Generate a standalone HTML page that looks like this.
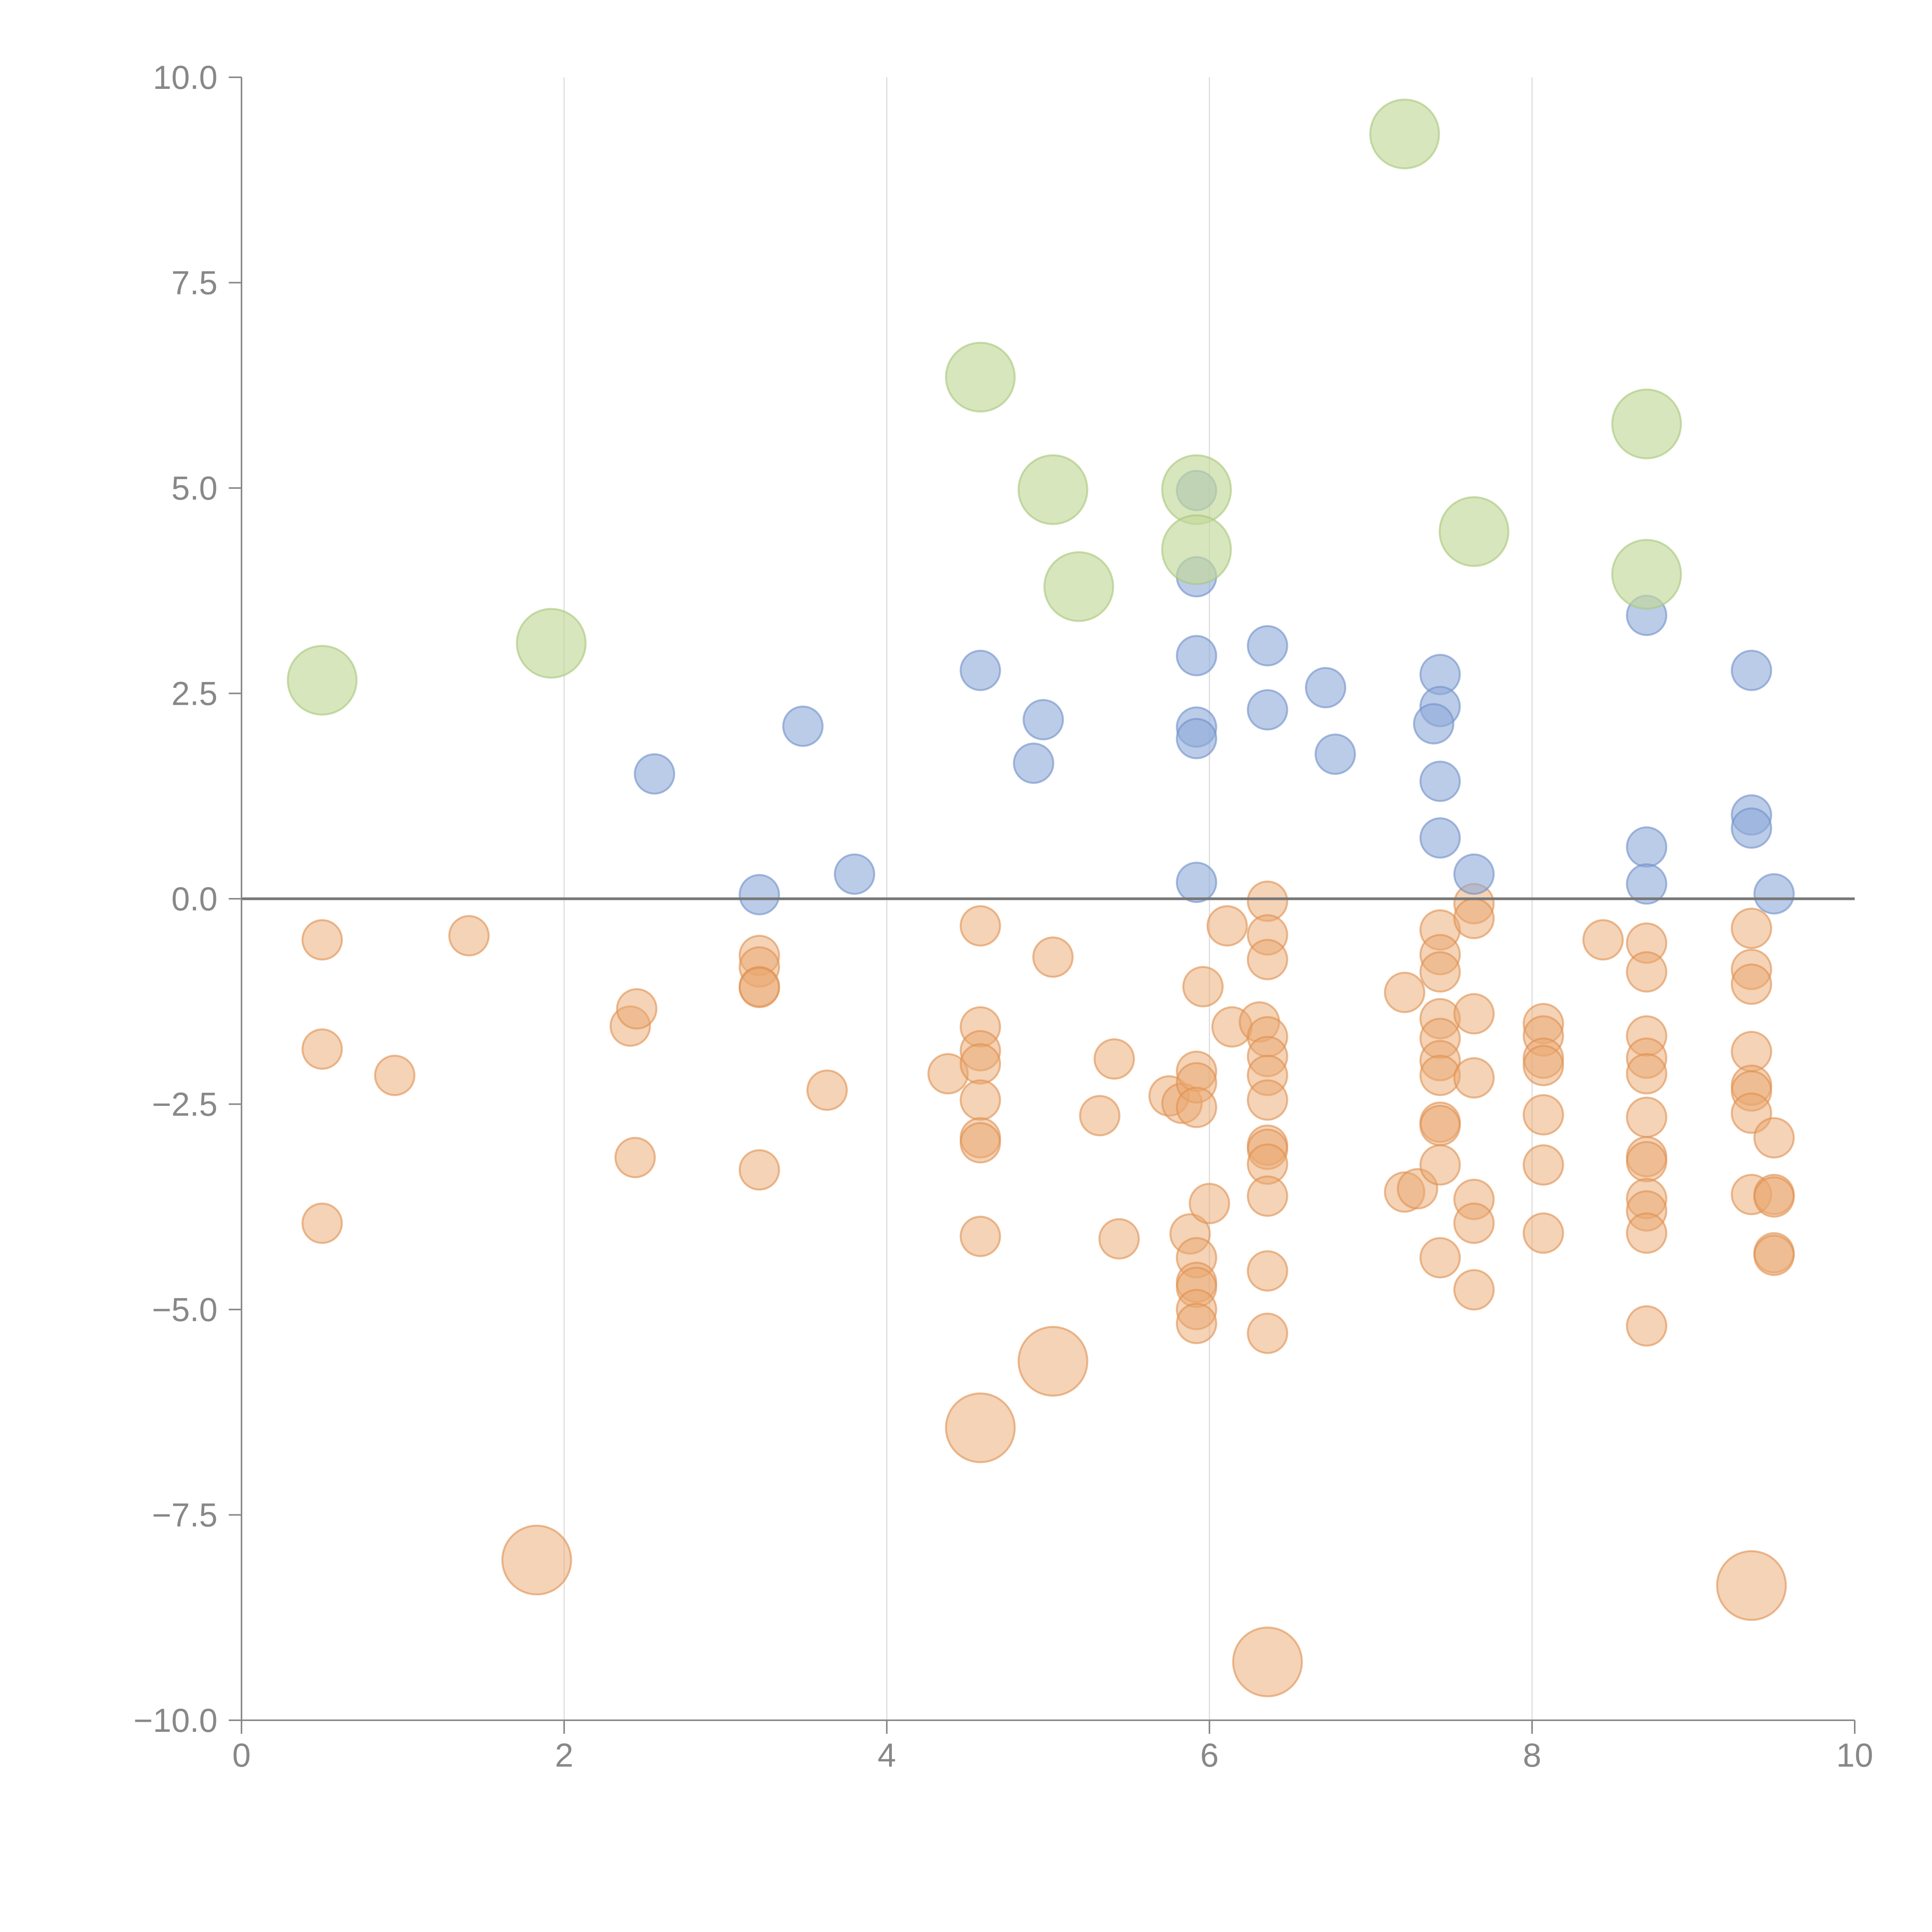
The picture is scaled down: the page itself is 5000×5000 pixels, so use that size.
<!DOCTYPE html>
<html><head><meta charset="utf-8">
<style>
html,body{margin:0;padding:0;background:#fff;}
svg{display:block;}
text{font-family:"Liberation Sans",Arial,sans-serif;fill:#888;font-size:86px;}
</style></head>
<body>
<svg id="chart" width="5000" height="5000" viewBox="0 0 5000 5000" xmlns="http://www.w3.org/2000/svg">
<g id="grid"></g>
<g id="marks"></g>
<g id="axes"></g>
</svg>
<script>
const xTicks=[0,2,4,6,8,10];
const yTicks=[-10,-7.5,-5,-2.5,0,2.5,5,7.5,10];
const yTickLabels=["\u221210.0","\u22127.5","\u22125.0","\u22122.5","0.0","2.5","5.0","7.5","10.0"];
const greenX=[0.50,1.92,4.58,5.03,5.19,5.92,5.92,7.21,7.64,8.71,8.71];
const greenY=[2.66,3.11,6.35,4.98,3.80,4.98,4.25,9.31,4.47,5.78,3.95];
const blueX=[2.56,3.48,3.21,3.80,4.58,4.97,4.91,5.92,5.92,5.92,5.92,5.92,5.92,6.36,6.36,6.72,6.78,7.43,7.43,7.39,7.43,7.43,7.64,8.71,8.71,8.71,9.36,9.36,9.36,9.50];
const blueY=[1.52,2.10,0.05,0.30,2.78,2.18,1.65,4.97,3.92,2.96,2.09,1.95,0.20,3.08,2.30,2.57,1.76,2.73,2.34,2.13,1.43,0.74,0.30,3.45,0.63,0.18,2.78,1.02,0.86,0.06];
const orangeX=[0.50,0.50,0.50,1.41,0.95,2.41,2.45,2.44,3.21,3.21,3.21,3.21,3.21,3.63,4.38,4.58,4.58,4.58,4.58,4.58,4.58,4.58,4.58,5.03,5.32,5.41,5.44,5.75,5.83,5.88,5.92,5.92,5.92,5.96,6.00,5.92,5.92,5.92,5.92,5.92,6.11,6.14,6.31,6.36,6.36,6.36,6.36,6.36,6.36,6.36,6.36,6.36,6.36,6.36,6.36,6.36,7.21,7.21,7.29,7.43,7.43,7.43,7.43,7.43,7.43,7.43,7.43,7.43,7.43,7.43,7.64,7.64,7.64,7.64,7.64,7.64,7.64,8.07,8.07,8.07,8.07,8.07,8.07,8.07,8.44,8.71,8.71,8.71,8.71,8.71,8.71,8.71,8.71,8.71,8.71,8.71,8.71,9.36,9.36,9.36,9.36,9.36,9.36,9.36,9.36,9.50,9.50,9.50,9.50,9.50];
const orangeY=[-0.50,-1.83,-3.95,-0.45,-2.15,-1.55,-1.34,-3.15,-0.69,-0.83,-1.07,-1.08,-3.30,-2.33,-2.13,-0.33,-1.56,-1.85,-2.01,-2.45,-2.91,-2.97,-4.11,-0.71,-2.64,-1.95,-4.14,-2.40,-2.49,-4.08,-2.10,-2.24,-2.54,-1.07,-3.71,-4.37,-4.67,-4.73,-5.00,-5.17,-0.33,-1.56,-1.50,-0.03,-0.44,-0.74,-1.68,-1.92,-2.15,-2.45,-3.00,-3.05,-3.23,-3.62,-4.53,-5.29,-1.14,-3.57,-3.53,-0.38,-0.68,-0.89,-1.46,-1.70,-1.97,-2.15,-2.72,-2.76,-3.24,-4.37,-0.06,-0.24,-1.40,-2.18,-3.66,-3.95,-4.76,-1.52,-1.67,-1.94,-2.03,-2.63,-3.24,-4.07,-0.50,-0.54,-0.89,-1.67,-1.94,-2.13,-2.66,-3.14,-3.20,-3.65,-3.80,-4.07,-5.20,-0.36,-0.86,-1.04,-1.86,-2.27,-2.34,-2.61,-3.60,-2.91,-3.60,-3.63,-4.31,-4.34];
const bigOrangeX=[5.03,4.58,1.83,9.36,6.36];
const bigOrangeY=[-5.63,-6.44,-8.05,-8.36,-9.29];

const NS="http://www.w3.org/2000/svg";
const X0=625,X1=4800,Y0=4452,Y1=200;
function sx(v){return X0+(v-0)/(10-0)*(X1-X0);}
function sy(v){return Y0-(v+10)/20*(Y0-Y1);}
function mk(tag,attrs,parent){const e=document.createElementNS(NS,tag);for(const k in attrs)e.setAttribute(k,attrs[k]);parent.appendChild(e);return e;}
const grid=document.getElementById('grid'),marks=document.getElementById('marks'),axes=document.getElementById('axes');

xTicks.forEach(t=>{
  if(t>0&&t<10){const l=mk('line',{x1:sx(t),x2:sx(t),y1:Y1,y2:Y0,stroke:'#dddddd','stroke-width':3},grid);
  
  }
});

function drawSeries(xs,ys,r,fill,stroke,op,name){
  xs.forEach((x,i)=>{
    const c=mk('circle',{cx:sx(x),cy:sy(ys[i]),r:r,fill:fill,'fill-opacity':op,stroke:stroke,'stroke-opacity':0.6,'stroke-width':5},marks);
    
    
  });
}
drawSeries(orangeX,orangeY,51,'#e9a86f','#e0904f',0.5,'orange-bubble');
drawSeries(bigOrangeX,bigOrangeY,89,'#e9a86f','#e0904f',0.5,'orange-large-bubble');
drawSeries(blueX,blueY,51,'#8eaad8','#6f90c8',0.6,'blue-bubble');
drawSeries(greenX,greenY,89,'#c3d99a','#a9c77a',0.65,'green-bubble');

// zero line
const z=mk('line',{x1:X0,x2:X1,y1:sy(0),y2:sy(0),stroke:'#777','stroke-width':7},axes);


// axes
const ya=mk('line',{x1:X0,x2:X0,y1:Y1,y2:Y0,stroke:'#888','stroke-width':4},axes);


const xa=mk('line',{x1:X0-33,x2:X1,y1:Y0,y2:Y0,stroke:'#888','stroke-width':4},axes);



yTicks.forEach((t,i)=>{
  const l=mk('line',{x1:X0-33,x2:X0,y1:sy(t),y2:sy(t),stroke:'#888','stroke-width':4},axes);
  
  
  const tx=mk('text',{x:563,y:sy(t)+30,'text-anchor':'end'},axes);
  tx.textContent=yTickLabels[i];
  
  
});
xTicks.forEach(t=>{
  const l=mk('line',{x1:sx(t),x2:sx(t),y1:Y0,y2:Y0+35,stroke:'#888','stroke-width':4},axes);
  
  
  const tx=mk('text',{x:sx(t),y:4572,'text-anchor':'middle'},axes);
  tx.textContent=String(t);
  
  
});
</script>
</body></html>
